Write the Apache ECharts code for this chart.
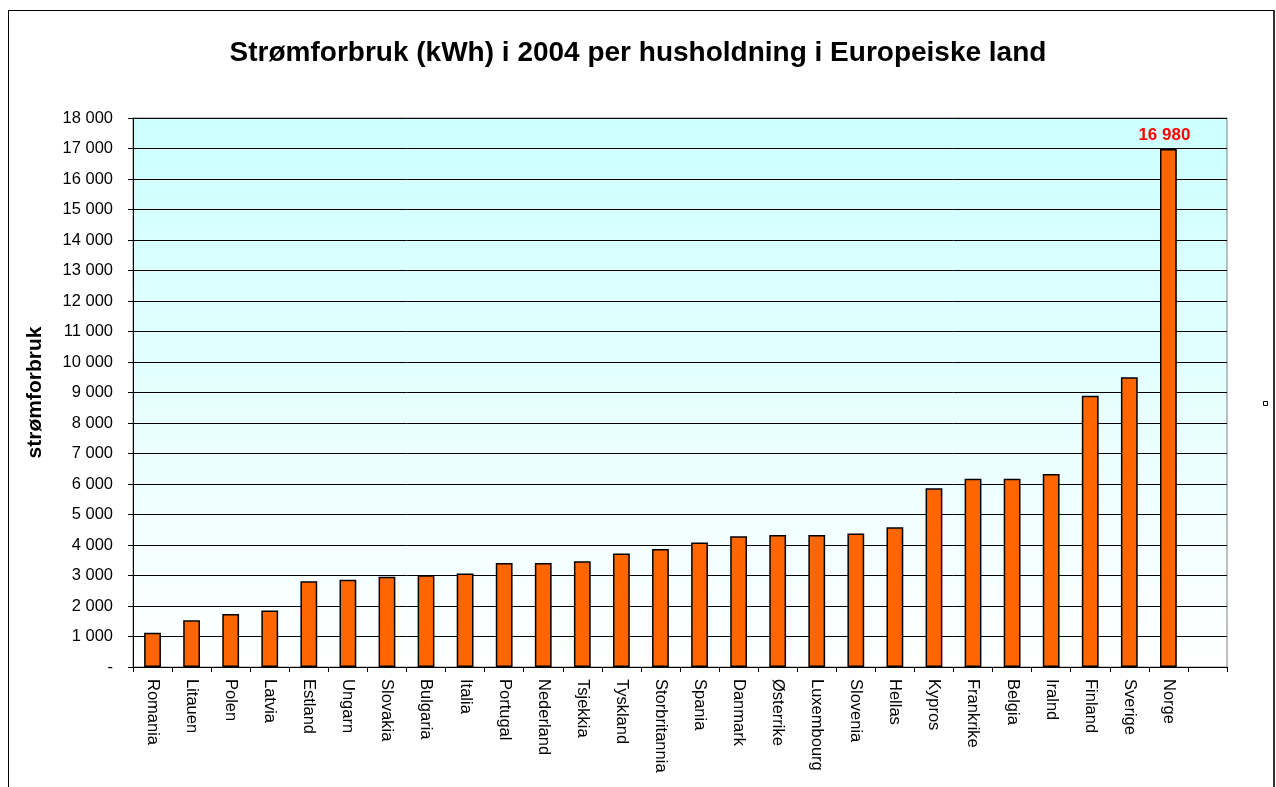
<!DOCTYPE html>
<html>
<head>
<meta charset="UTF-8">
<title>Strømforbruk per husholdning</title>
<script src="https://cdn.jsdelivr.net/npm/echarts@6/dist/echarts.min.js"></script>
<style type="text/css">
   html,body{
      margin:0;
      padding:0;
      background-color:#ffffff;
      overflow:hidden;
   }
   .frame{
      position:absolute;
      left:8px;
      top:10px;
      width:1264px;
      height:800px;
      border-left:1px solid #000;
      border-top:1px solid #000;
      border-right:2px solid #333;
   }
   #container{
      position:absolute;
      left:0;
      top:0;
      width:1276px;
      height:787px;
   }
</style>
</head>
<body>
<div class="frame"></div>
<div id="container"></div>
<script type="text/javascript">
// land, sortert etter forbruk
var countries = ['Romania','Litauen','Polen','Latvia','Estland','Ungarn','Slovakia','Bulgaria','Italia',
   'Portugal','Nederland','Tsjekkia','Tyskland','Storbritannia','Spania','Danmark','Østerrike',
   'Luxembourg','Slovenia','Hellas','Kypros','Frankrike','Belgia','Iralnd','Finland','Sverige','Norge',''];
// kWh per husholdning
var usage = [1120,1530,1740,1850,2810,2860,2960,3010,3065,3410,3410,3470,3720,3870,4080,4290,4330,
   4330,4375,4580,5860,6170,6170,6330,8890,9500,16980,null];
var yTicks = {min:0, max:18000, step:1000};

function fmt(v){
   if(v === 0) return '-';
   return String(v).replace(/\B(?=(\d{3})+(?!\d))/g, ' ');
}

var barData = [];
for(var i=0;i<usage.length;i++){
   if(countries[i] === 'Norge'){
      barData.push({value:usage[i], label:{show:true}});
   }else{
      barData.push(usage[i]);
   }
}

var dom = document.getElementById("container");
var myChart = echarts.init(dom, null, {renderer:'canvas'});
var option = {
   animation:false,
   textStyle:{fontFamily:'"Liberation Sans", Arial, sans-serif'},
   title:{
      text:'Strømforbruk (kWh) i 2004 per husholdning i Europeiske land',
      left:'center',
      top:34,
      textStyle:{fontSize:28, fontWeight:'bold', color:'#000', fontFamily:'"Liberation Sans", Arial, sans-serif'}
   },
   grid:{
      left:133,
      right:49,
      top:118,
      bottom:120,
      show:true,
      borderColor:'#808080',
      borderWidth:1,
      backgroundColor:{
         type:'linear', x:0, y:0, x2:0, y2:1,
         colorStops:[{offset:0, color:'#ccffff'},{offset:1, color:'#ffffff'}]
      }
   },
   xAxis:[{
      type:'category',
      data:countries,
      axisLine:{lineStyle:{color:'#000', width:1}},
      axisTick:{show:true, length:5, lineStyle:{color:'#000'}},
      axisLabel:{
         interval:0,
         rotate:-90,
         margin:12,
         fontSize:16.5,
         color:'#000'
      }
   }],
   yAxis:[{
      type:'value',
      min:yTicks.min,
      max:yTicks.max,
      interval:yTicks.step,
      name:'strømforbruk',
      nameLocation:'middle',
      nameGap:87,
      nameTextStyle:{fontSize:21, fontWeight:'bold', color:'#000'},
      axisLine:{show:true, lineStyle:{color:'#000', width:1}},
      axisTick:{show:true, length:5, lineStyle:{color:'#000'}},
      axisLabel:{fontSize:16.5, color:'#000', margin:20, formatter:fmt},
      splitLine:{show:true, lineStyle:{color:'#000', width:1}}
   }],
   series:[{
      name:'strømforbruk',
      type:'bar',
      barWidth:'43%',
      data:barData,
      itemStyle:{color:'#ff6600', borderColor:'#000', borderWidth:1.5},
      label:{
         show:false,
         position:'top',
         distance:5,
         offset:[-4,0],
         color:'#ff0000',
         fontSize:17,
         fontWeight:'bold',
         formatter:function(p){ return fmt(p.value); }
      }
   }],
   graphic:[{
      type:'rect',
      left:1263,
      top:401,
      shape:{width:4, height:4},
      style:{fill:'#fff', stroke:'#000', lineWidth:1}
   }]
};
myChart.setOption(option, true);
</script>
</body>
</html>
